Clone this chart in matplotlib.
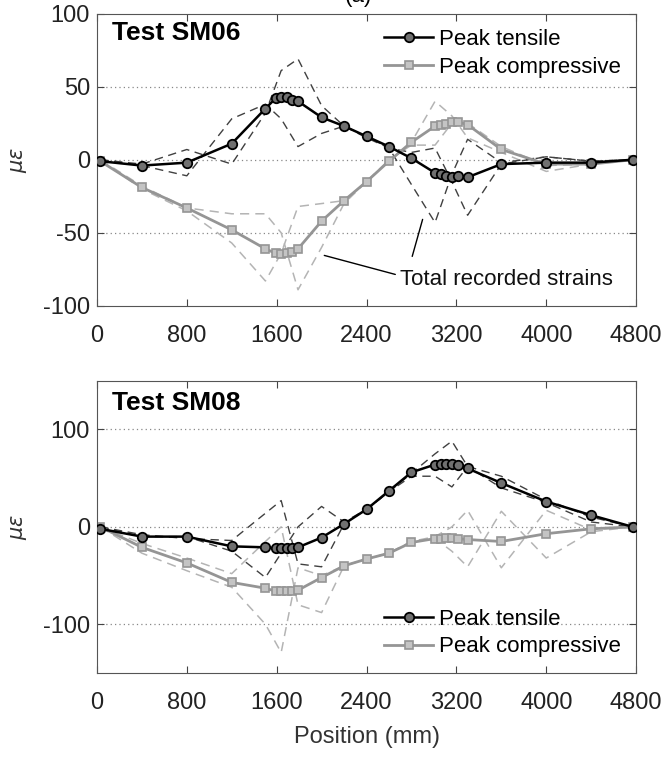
import matplotlib
matplotlib.use('Agg')
import matplotlib.pyplot as plt

plt.rcParams['font.family'] = ['Liberation Sans', 'DejaVu Sans']
plt.rcParams['mathtext.fontset'] = 'dejavusans'
plt.rcParams['axes.unicode_minus'] = False

# sensor positions (mm)
positions = [30, 400, 800, 1200, 1500, 1590, 1640, 1690, 1740, 1790, 2000, 2200, 2400,
             2600, 2800, 3010, 3060, 3110, 3160, 3210, 3300, 3600, 4000, 4400, 4770]

sm06_tensile = [-1, -4, -2, 11, 35, 42, 43, 43, 41, 40, 29, 23, 16,
                9, 1, -9, -10, -11, -12, -11, -12, -3, -2, -2, 0]
sm06_compressive = [-1, -19, -33, -48, -61, -64, -64.5, -64, -63, -61, -42, -28, -15,
                    -1, 12, 23, 24, 24.5, 25.5, 26, 24, 7, -3, -3, 0]

sm08_tensile = [-2, -10, -10, -20, -21, -22, -22, -22, -22, -21, -11, 3, 18,
                37, 56, 64, 65, 65, 65, 64, 60, 45, 26, 12, 0]
sm08_compressive = [0, -21, -37, -57, -63, -66, -66, -66, -66, -65, -52, -40, -33,
                    -27, -16, -12, -12, -11, -11, -12, -13, -15, -7, -2, 0]

# total recorded strains (dashed)
positions_total = [30, 400, 800, 1200, 1500, 1640, 1790, 2000, 2200, 2400,
                   2600, 2800, 3010, 3160, 3300, 3600, 4000, 4400, 4770]

sm06_total_dark = [
    [0, -3, 7, -3, 32, 61, 69, 37, 23, 15, 8, -17, -43, -10, 14, -2, 2, -1, 0],
    [0, -4, -11, 28, 38, 28, 9, 18, 23, 16, 8, 5, 8, -15, -38, -3, 2, -1, 0],
]
sm06_total_light = [
    [0, -18, -33, -37, -37, -50, -89, -60, -30, -15, -1, 12, 40, 30, 15, 5, -8, -3, 0],
    [0, -20, -35, -57, -83, -64, -32, -30, -28, -15, 0, 10, 10, 25, 25, 9, -4, -3, 0],
]
sm08_total_dark = [
    [0, -8, -12, -14, 14, 27, -38, -41, 3, 18, 36, 55, 75, 88, 62, 52, 28, 10, 0],
    [0, -10, -10, -25, -52, -27, 0, 21, 5, 18, 36, 52, 52, 41, 62, 40, 25, 5, 0],
]
sm08_total_light = [
    [0, -27, -45, -62, -100, -129, -42, -50, -40, -33, -27, -15, -10, 0, 17, -42, 17, -3, 0],
    [0, -17, -32, -48, -15, 0, -80, -88, -40, -33, -27, -15, -12, -25, -41, 16, -32, -5, 0],
]

xticks = [0, 800, 1600, 2400, 3200, 4000, 4800]

fig = plt.figure(figsize=(6.64, 7.57), dpi=100)
ax1 = fig.add_axes([0.146, 0.596, 0.812, 0.386])
ax2 = fig.add_axes([0.146, 0.111, 0.812, 0.386])


def draw(ax, tens, comp, dark, light, name, yticks, ylim, legend_loc):
    for ys in light:
        ax.plot(positions_total, ys, color='#b4b4b4', lw=1.1, dashes=(6, 4), zorder=1)
    for ys in dark:
        ax.plot(positions_total, ys, color='#404040', lw=1.0, dashes=(6, 4), zorder=1)
    ax.plot(positions, tens, '-o', color='black', lw=1.8, ms=6.8,
            mfc='#707070', mec='black', mew=1.3, label='Peak tensile', zorder=3)
    ax.plot(positions, comp, '-s', color='#959595', lw=2.0, ms=5.4,
            mfc='#c4c4c4', mec='#959595', mew=1.2, label='Peak compressive', zorder=2)
    ax.set_xlim(0, 4800)
    ax.set_ylim(*ylim)
    ax.set_xticks(xticks)
    ax.set_yticks(yticks)
    for y in yticks:
        if ylim[0] < y < ylim[1]:
            ax.axhline(y, color='#888888', lw=0.9, ls=(0, (1, 2.5)), zorder=0)
    ax.tick_params(direction='in', top=True, right=True, labelsize=17,
                   length=5, color='#444444', labelcolor='#222222')
    ax.tick_params(axis='x', pad=14)
    ax.tick_params(axis='y', pad=5)
    for s in ax.spines.values():
        s.set_color('#555555')
    ax.set_ylabel(r'$\mu\epsilon$', fontsize=15, color='#333333', labelpad=10)
    ax.text(0.028, 0.935 if legend_loc == 'upper right' else 0.925, name,
            transform=ax.transAxes, fontsize=19, fontweight='bold', va='center')
    leg = ax.legend(loc=legend_loc, frameon=False, fontsize=16, handlelength=2.2,
                    handletextpad=0.25, borderaxespad=0.3, labelspacing=0.3)
    return leg


draw(ax1, sm06_tensile, sm06_compressive, sm06_total_dark, sm06_total_light,
     'Test SM06', [-100, -50, 0, 50, 100], (-100, 100), 'upper right')
draw(ax2, sm08_tensile, sm08_compressive, sm08_total_dark, sm08_total_light,
     'Test SM08', [-100, 0, 100], (-150, 150), 'lower right')

ax1.text(2700, -82, 'Total recorded strains', fontsize=16, va='center', ha='left', color='#111111')
ax1.annotate('', xy=(2000, -65), xytext=(2680, -79),
             arrowprops=dict(arrowstyle='-', lw=1.0, color='black'))
ax1.annotate('', xy=(2906, -39), xytext=(2800, -68),
             arrowprops=dict(arrowstyle='-', lw=1.0, color='black'))

ax2.set_xlabel('Position (mm)', fontsize=17, color='#333333', labelpad=8)
fig.text(0.54, 0.998, '(a)', ha='center', va='baseline', fontsize=16)

fig.savefig('out.png', dpi=100)
